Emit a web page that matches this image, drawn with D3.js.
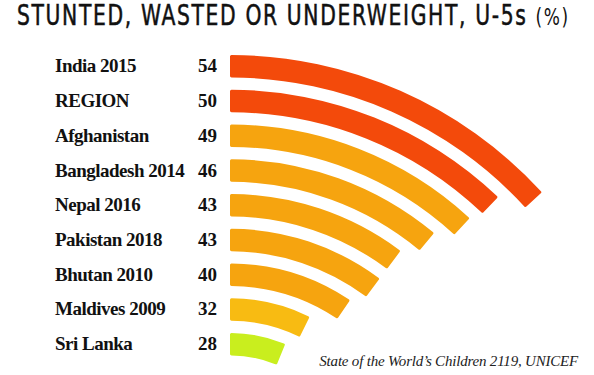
<!DOCTYPE html>
<html>
<head>
<meta charset="utf-8">
<script src="https://cdn.jsdelivr.net/npm/d3@7"></script>
<style>
  html, body { margin: 0; padding: 0; background: #fff; }
  svg { display: block; }
</style>
</head>
<body>
<div id="chart"></div>
<script>
// data
const countries = ['India 2015', 'REGION', 'Afghanistan', 'Bangladesh 2014', 'Nepal 2016',
    'Pakistan 2018', 'Bhutan 2010', 'Maldives 2009', 'Sri Lanka'];
const values = [54, 50, 49, 46, 43, 43, 40, 32, 28];
const titleText = 'STUNTED, WASTED OR UNDERWEIGHT, U-5s';
const titleUnit = '(%)';
const sourceText = 'State of the World\u2019s Children 2119, UNICEF';

const width = 594;
const height = 375;

const rows = countries.map((c, i) => ({ name: c, value: values[i] }));

const svg = d3.select('#chart').append('svg')
    .attr('width', width)
    .attr('height', height);

// arcs all share one centre below the plot, starting at 12 o'clock
const cx = 230;
const cy = 478;

// rows from top to bottom (outer ring first)
const y = d3.scaleBand()
    .domain(countries)
    .range([55, 355.5])
    .paddingInner(0.3525)
    .paddingOuter(0);

const deg = Math.PI / 180;
const angle = d3.scaleLinear()
    .domain([0, 100])
    .range([-4.6 * deg, 91.9 * deg]);

const color = d3.scaleThreshold()
    .domain([30, 35, 50])
    .range(['#c9ee1e', '#f8bb12', '#f6a40f', '#f34a0b']);

const arc = d3.arc()
    .startAngle(0)
    .endAngle(d => angle(d.value))
    .outerRadius(d => cy - y(d.name))
    .innerRadius(d => cy - y(d.name) - y.bandwidth())
    .cornerRadius(1.5);

svg.append('g')
    .attr('transform', `translate(${cx},${cy})`)
    .selectAll('path')
    .data(rows)
    .join('path')
    .attr('d', arc)
    .attr('fill', d => color(d.value));

const labelFont = '"Liberation Serif", serif';

// country names
svg.append('g')
    .selectAll('text')
    .data(rows)
    .join('text')
    .attr('x', 55)
    .attr('y', d => y(d.name) + y.bandwidth() / 2 + 6)
    .attr('font-family', labelFont)
    .attr('font-weight', 'bold')
    .attr('font-size', 19)
    .attr('letter-spacing', -0.5)
    .attr('fill', '#111')
    .text(d => d.name);

// values
svg.append('g')
    .selectAll('text')
    .data(rows)
    .join('text')
    .attr('x', 217)
    .attr('y', d => y(d.name) + y.bandwidth() / 2 + 6)
    .attr('text-anchor', 'end')
    .attr('font-family', labelFont)
    .attr('font-weight', 'bold')
    .attr('font-size', 19)
    .attr('fill', '#111')
    .text(d => d.value);

// title: condensed look, squeezed to the width it has in the picture
const title = svg.append('text')
    .attr('font-family', '"DejaVu Sans Condensed", "DejaVu Sans", sans-serif')
    .attr('font-size', 27.5)
    .attr('letter-spacing', 2)
    .attr('fill', '#111')
    .attr('stroke', '#111')
    .attr('stroke-width', 0.5);
title.append('tspan').text(titleText + ' ');
title.append('tspan').attr('font-size', 23).attr('stroke-width', 0).text(titleUnit);
const tw = title.node().getComputedTextLength();
title.attr('transform', `translate(17,25) scale(${553 / tw},1)`);

// source note
svg.append('text')
    .attr('x', 578)
    .attr('y', 366)
    .attr('text-anchor', 'end')
    .attr('font-family', labelFont)
    .attr('font-style', 'italic')
    .attr('font-size', 15)
    .attr('letter-spacing', -0.2)
    .attr('fill', '#222')
    .text(sourceText);
</script>
</body>
</html>
